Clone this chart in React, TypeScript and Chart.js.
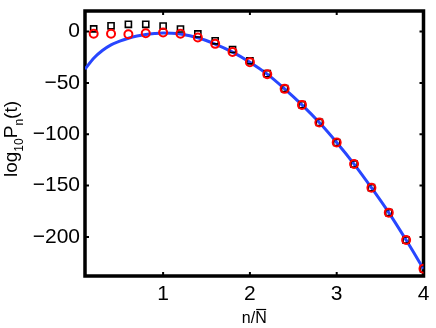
import React, { useEffect, useRef } from "react";
import { Chart, registerables } from "chart.js";

Chart.register(...registerables);

const xTicks = [1, 2, 3, 4];
const yTicks = [-200, -150, -100, -50, 0];

const sampleX = [0.2, 0.4, 0.6, 0.8, 1.0, 1.2, 1.4, 1.6, 1.8, 2.0, 2.2, 2.4, 2.6, 2.8, 3.0, 3.2, 3.4, 3.6, 3.8, 4.0];
const squareY = [2.6, 5.6, 7.0, 7.0, 5.4, 2.5, -2.3, -9.0, -17.5, -28.5, -41.0, -55.5, -71.2, -88.5, -108, -129, -152, -176.3, -203, -231];
const circleY = [-2.2, -2.2, -2.6, -1.6, -1.0, -2.2, -5.8, -12.0, -19.8, -29.8, -41.5, -55.8, -71.4, -88.6, -108, -129, -152, -176.3, -203, -231];

const curveX = [0.1, 0.2, 0.3, 0.4, 0.5, 0.6, 0.7, 0.8, 0.9, 1.0, 1.1, 1.2, 1.4, 1.6, 1.8, 2.0, 2.2, 2.4, 2.6, 2.8, 3.0, 3.2, 3.4, 3.6, 3.8, 4.0];
const curveY = [-36.6, -26, -18.5, -13, -9.3, -6.5, -4.4, -2.9, -2.0, -1.5, -1.6, -2.4, -6.0, -12.2, -20, -29.8, -41.5, -55.8, -71.4, -88.6, -108, -129, -152, -176.3, -203, -231];

const X_MIN = 0.1;
const X_MAX = 4;
const Y_MIN = -238;
const Y_MAX = 20;

const FONT = '"Liberation Sans", Arial, Helvetica, sans-serif';

const framePlugin = {
  id: "matlabFrame",
  beforeDatasetsDraw(chart: any) {
    const { ctx, chartArea: a, scales } = chart;
    ctx.save();
    ctx.strokeStyle = "#000";
    ctx.lineWidth = 2;
    const tl = 4;
    ctx.beginPath();
    xTicks.forEach((v) => {
      const px = scales.x.getPixelForValue(v);
      ctx.moveTo(px, a.bottom);
      ctx.lineTo(px, a.bottom - tl);
      ctx.moveTo(px, a.top);
      ctx.lineTo(px, a.top + tl);
    });
    yTicks.forEach((v) => {
      const py = scales.y.getPixelForValue(v);
      ctx.moveTo(a.left, py);
      ctx.lineTo(a.left + tl, py);
      ctx.moveTo(a.right, py);
      ctx.lineTo(a.right - tl, py);
    });
    ctx.stroke();
    ctx.lineWidth = 3.5;
    ctx.strokeRect(a.left, a.top, a.right - a.left, a.bottom - a.top);
    ctx.restore();
  },
  afterDraw(chart: any) {
    const { ctx, chartArea: a } = chart;
    ctx.save();
    ctx.fillStyle = "#000";
    ctx.strokeStyle = "#000";
    // Y title with subscripts
    const main = `19px ${FONT}`;
    const sub = `12px ${FONT}`;
    const parts: [string, boolean][] = [["log", false], ["10", true], ["P", false], ["n", true], ["(t)", false]];
    let total = 0;
    const widths = parts.map(([t, s]) => {
      ctx.font = s ? sub : main;
      const w = ctx.measureText(t).width;
      total += w;
      return w;
    });
    ctx.translate(17, 139);
    ctx.rotate(-Math.PI / 2);
    ctx.textBaseline = "alphabetic";
    ctx.textAlign = "left";
    let x = -total / 2;
    parts.forEach(([t, s], i) => {
      ctx.font = s ? sub : main;
      ctx.fillText(t, x, s ? 6 : 0);
      x += widths[i];
    });
    ctx.restore();

    // X title n/N-bar
    ctx.save();
    ctx.fillStyle = "#000";
    ctx.strokeStyle = "#000";
    ctx.font = `16px ${FONT}`;
    ctx.textBaseline = "alphabetic";
    ctx.textAlign = "left";
    const pre = "n/";
    const wPre = ctx.measureText(pre).width;
    const wN = ctx.measureText("N").width;
    const cx = (a.left + a.right) / 2;
    const x0 = cx - (wPre + wN) / 2;
    const base = 323;
    ctx.fillText(pre, x0, base);
    ctx.fillText("N", x0 + wPre, base);
    ctx.lineWidth = 1.2;
    ctx.beginPath();
    ctx.moveTo(x0 + wPre + 1, base - 13.5);
    ctx.lineTo(x0 + wPre + wN - 0.5, base - 13.5);
    ctx.stroke();
    ctx.restore();
  },
};

export default function App() {
  const ref = useRef<HTMLCanvasElement | null>(null);

  useEffect(() => {
    document.body.style.margin = "0";
    if (!ref.current) return;
    const chart = new Chart(ref.current, {
      type: "scatter",
      data: {
        datasets: [
          {
            type: "line",
            label: "curve",
            data: curveX.map((x, i) => ({ x, y: curveY[i] })),
            borderColor: "#2846ff",
            borderWidth: 3,
            pointRadius: 0,
            cubicInterpolationMode: "monotone",
            fill: false,
            order: 3,
          } as any,
          {
            label: "squares",
            data: sampleX.map((x, i) => ({ x, y: squareY[i] })),
            pointStyle: "rect",
            pointRadius: 4.3,
            borderColor: "#000",
            backgroundColor: "rgba(0,0,0,0)",
            borderWidth: 1.6,
            order: 2,
          },
          {
            label: "circles",
            data: sampleX.map((x, i) => ({ x, y: circleY[i] })),
            pointStyle: "circle",
            pointRadius: 4,
            borderColor: "#ff0000",
            backgroundColor: "rgba(0,0,0,0)",
            borderWidth: 2,
            order: 1,
          },
        ],
      },
      options: {
        animation: false,
        responsive: false,
        maintainAspectRatio: false,
        events: [],
        layout: { padding: { top: 11, right: 12.5, left: 0, bottom: 0 } },
        plugins: {
          legend: { display: false },
          tooltip: { enabled: false },
        },
        scales: {
          x: {
            type: "linear",
            min: X_MIN,
            max: X_MAX,
            grid: { display: false, drawTicks: false },
            border: { display: false },
            afterBuildTicks: (s: any) => {
              s.ticks = xTicks.map((v) => ({ value: v }));
            },
            afterFit: (s: any) => {
              s.height = 52;
              s.paddingLeft = 0;
              s.paddingRight = 0;
            },
            ticks: {
              color: "#000",
              font: { family: FONT, size: 21 },
              padding: 6,
              maxRotation: 0,
              callback: (v: any) => String(v),
            },
          },
          y: {
            type: "linear",
            min: Y_MIN,
            max: Y_MAX,
            grid: { display: false, drawTicks: false },
            border: { display: false },
            afterBuildTicks: (s: any) => {
              s.ticks = yTicks.map((v) => ({ value: v }));
            },
            afterFit: (s: any) => {
              s.width = 85;
              s.paddingTop = 0;
              s.paddingBottom = 0;
            },
            ticks: {
              color: "#000",
              font: { family: FONT, size: 21 },
              padding: 5,
              callback: (v: any) => (Number(v) < 0 ? "\u2212" + Math.abs(Number(v)) : String(v)),
            },
          },
        },
      },
      plugins: [framePlugin],
    });
    return () => chart.destroy();
  }, []);

  return (
    <div style={{ position: "absolute", left: 0, top: 0, width: 436, height: 328, background: "#fff" }}>
      <canvas ref={ref} width={436} height={328} style={{ display: "block" }} />
    </div>
  );
}
